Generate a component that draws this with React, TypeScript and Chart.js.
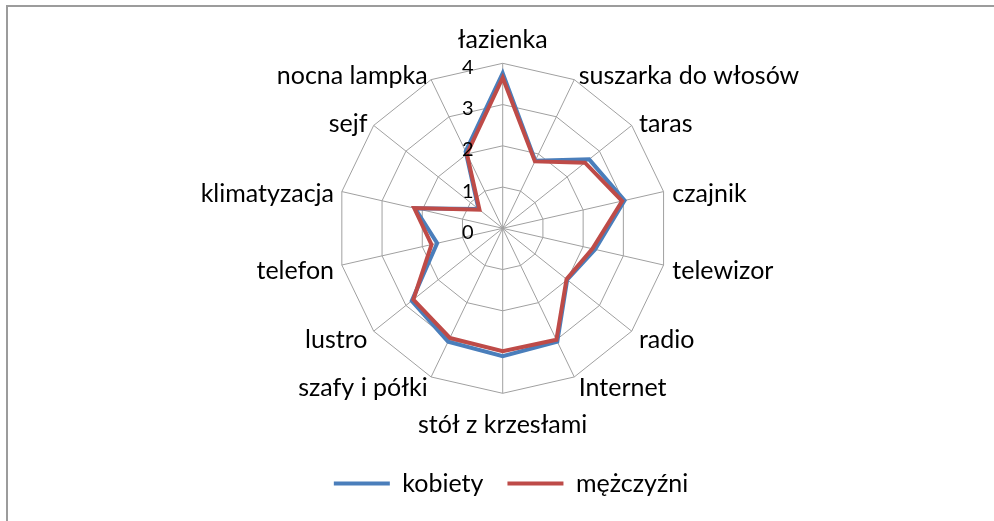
import React, { useEffect, useRef } from 'react';
import { Chart, registerables } from 'chart.js';

Chart.register(...registerables);

const categories = [
  'łazienka',
  'suszarka do włosów',
  'taras',
  'czajnik',
  'telewizor',
  'radio',
  'Internet',
  'stół z krzesłami',
  'szafy i półki',
  'lustro',
  'telefon',
  'klimatyzacja',
  'sejf',
  'nocna lampka',
];

const kobiety = [3.76, 1.82, 2.68, 3.03, 2.3, 2.0, 3.05, 3.1, 3.05, 2.82, 1.63, 2.18, 0.75, 2.07];
const mezczyzni = [3.65, 1.8, 2.55, 2.97, 2.23, 1.98, 3.0, 2.98, 2.95, 2.77, 1.77, 2.2, 0.72, 2.0];

const tickValues = [0, 1, 2, 3, 4];
const seriesNames = ['kobiety', 'mężczyźni'];
const seriesColors = ['#4a7ebb', '#be4b48'];

const FONT = 'Lato, "Open Sans", sans-serif';
const LABEL_SIZE = 25;
const TICK_SIZE = 20;
const CENTER_X = 502.7;
const CENTER_Y = 228.3;
const RADIUS = 165;
const LABEL_PAD = 8;

const excelLabels = {
  id: 'excelLabels',
  afterDraw(chart: any) {
    const scale = chart.scales.r;
    const ctx = chart.ctx;
    ctx.save();
    ctx.fillStyle = '#000';
    ctx.font = `${LABEL_SIZE}px ${FONT}`;
    ctx.textBaseline = 'middle';
    categories.forEach((lab, i) => {
      const p = scale.getPointPosition(i, scale.drawingArea + LABEL_PAD);
      const dx = p.x - scale.xCenter;
      let align: CanvasTextAlign = 'center';
      if (dx > 1) align = 'left';
      else if (dx < -1) align = 'right';
      let y = p.y + 4;
      if (Math.abs(dx) <= 1) y = p.y < scale.yCenter ? p.y - 15 : p.y + 24;
      ctx.textAlign = align;
      ctx.fillText(lab, p.x + (align === 'left' ? 1 : 0), y);
    });
    ctx.font = `${TICK_SIZE}px ${FONT}`;
    ctx.textAlign = 'right';
    tickValues.forEach((v) => {
      const d = scale.getDistanceFromCenterForValue(v);
      ctx.fillText(String(v), scale.xCenter - 29, scale.yCenter - d + 4);
    });
    ctx.restore();
  },
};

export default function App() {
  const ref = useRef<HTMLCanvasElement | null>(null);

  useEffect(() => {
    if (!ref.current) return;
    const chart = new Chart(ref.current, {
      type: 'radar',
      data: {
        labels: categories,
        datasets: [
          {
            label: seriesNames[0],
            data: kobiety,
            borderColor: seriesColors[0],
            backgroundColor: seriesColors[0],
            borderWidth: 4,
            pointRadius: 0,
            pointHoverRadius: 0,
            fill: false,
            tension: 0,
            order: 1,
          },
          {
            label: seriesNames[1],
            data: mezczyzni,
            borderColor: seriesColors[1],
            backgroundColor: seriesColors[1],
            borderWidth: 4,
            pointRadius: 0,
            pointHoverRadius: 0,
            fill: false,
            tension: 0,
            order: 0,
          },
        ],
      },
      options: {
        responsive: false,
        animation: false,
        layout: { padding: { left: 28, bottom: 15 } },
        scales: {
          r: {
            min: 0,
            max: 4,
            ticks: { display: false, stepSize: 1 },
            grid: { circular: false, color: '#a0a0a0', lineWidth: 1 },
            angleLines: { color: '#a0a0a0', lineWidth: 1 },
            pointLabels: { display: false },
            afterFit: (s: any) => {
              s.xCenter = CENTER_X;
              s.yCenter = CENTER_Y;
              s.drawingArea = RADIUS;
            },
          } as any,
        },
        plugins: {
          legend: {
            position: 'bottom',
            labels: {
              color: '#000',
              font: { family: FONT, size: LABEL_SIZE },
              boxWidth: 56,
              boxHeight: 4,
              padding: 24,
              generateLabels: (c: any) =>
                c.data.datasets.map((ds: any, i: number) => ({
                  text: ds.label,
                  fillStyle: ds.borderColor,
                  strokeStyle: ds.borderColor,
                  lineWidth: 0,
                  hidden: false,
                  datasetIndex: i,
                  fontColor: '#000',
                })),
            },
          },
          tooltip: { enabled: false },
        },
      },
      plugins: [excelLabels],
    });
    return () => chart.destroy();
  }, []);

  return (
    <div style={{ position: 'fixed', left: 0, top: 0, width: 994, height: 521, overflow: 'hidden', background: '#fff' }}>
      <canvas ref={ref} width={994} height={521} style={{ position: 'absolute', left: 0, top: 0 }} />
      <div
        style={{
          position: 'absolute',
          left: 6,
          top: 5,
          width: 1100,
          height: 700,
          borderTop: '2px solid #9c9c9c',
          borderLeft: '2px solid #9c9c9c',
          pointerEvents: 'none',
        }}
      />
    </div>
  );
}
